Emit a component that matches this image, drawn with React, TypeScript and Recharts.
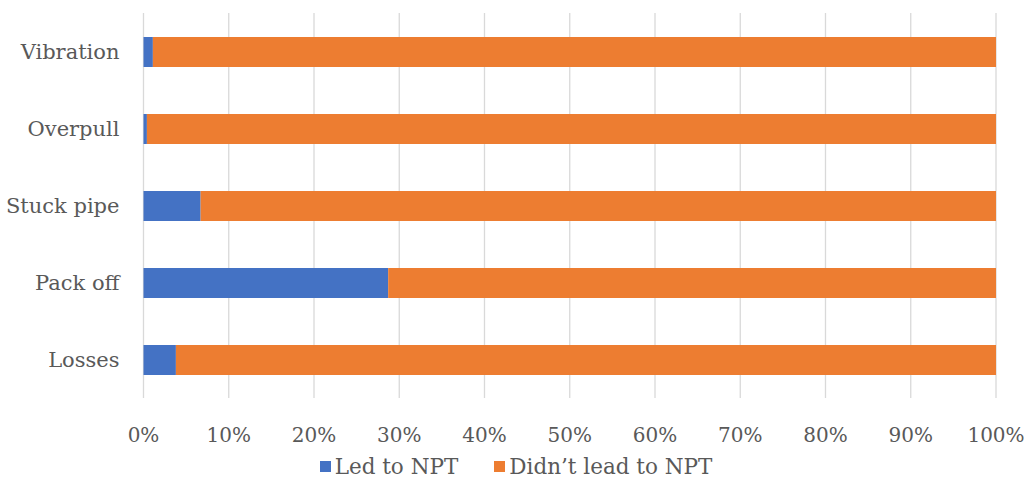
import { BarChart, Bar, XAxis, YAxis, CartesianGrid, Legend } from 'recharts'

const categories = ['Vibration', 'Overpull', 'Stuck pipe', 'Pack off', 'Losses']
const ledToNpt = [1.1, 0.4, 6.7, 28.7, 3.8]
const didntLead = [98.9, 99.6, 93.3, 71.3, 96.2]
const xTicks = [0, 10, 20, 30, 40, 50, 60, 70, 80, 90, 100]

const BLUE = '#4472C4'
const ORANGE = '#ED7D31'
const TEXT = '#595959'
const FONT = '"DejaVu Serif", serif'

const data = categories.map((category, i) => ({
  category,
  led: ledToNpt[i],
  didnt: didntLead[i],
}))

// legend drawn by hand so the squares and spacing look like Excel's
function LegendContent() {
  const items = [
    { label: 'Led to NPT', color: BLUE },
    { label: 'Didn\u2019t lead to NPT', color: ORANGE },
  ]
  return (
    <div style={{ display: 'flex', justifyContent: 'center', gap: 36, fontFamily: FONT, fontSize: 21.5, color: TEXT, paddingLeft: 36 }}>
      {items.map((it) => (
        <div key={it.label} style={{ display: 'flex', alignItems: 'center' }}>
          <span style={{ width: 11, height: 11, background: it.color, display: 'inline-block', marginRight: 4 }} />
          <span>{it.label}</span>
        </div>
      ))}
    </div>
  )
}

export default function App() {
  return (
    <div style={{ position: 'absolute', left: 0, top: 0, background: '#fff' }}>
      <BarChart
        width={1029}
        height={486}
        data={data}
        layout="vertical"
        margin={{ top: 13, right: 33, left: 0, bottom: 7 }}
        barSize={30}
      >
        <CartesianGrid horizontal={false} stroke="#D9D9D9" strokeWidth={1.3} />
        <XAxis
          type="number"
          domain={[0, 100]}
          ticks={xTicks}
          tickFormatter={(v) => `${v}%`}
          axisLine={false}
          tickLine={false}
          tickMargin={24}
          height={56}
          tick={{ fontFamily: FONT, fontSize: 20, fill: TEXT }}
        />
        <YAxis
          type="category"
          dataKey="category"
          width={143.5}
          axisLine={false}
          tickLine={false}
          tickMargin={18}
          tick={{ fontFamily: FONT, fontSize: 21, fill: TEXT }}
        />
        <Legend verticalAlign="bottom" content={<LegendContent />} />
        <Bar dataKey="led" stackId="a" fill={BLUE} isAnimationActive={false} />
        <Bar dataKey="didnt" stackId="a" fill={ORANGE} isAnimationActive={false} />
      </BarChart>
    </div>
  )
}
